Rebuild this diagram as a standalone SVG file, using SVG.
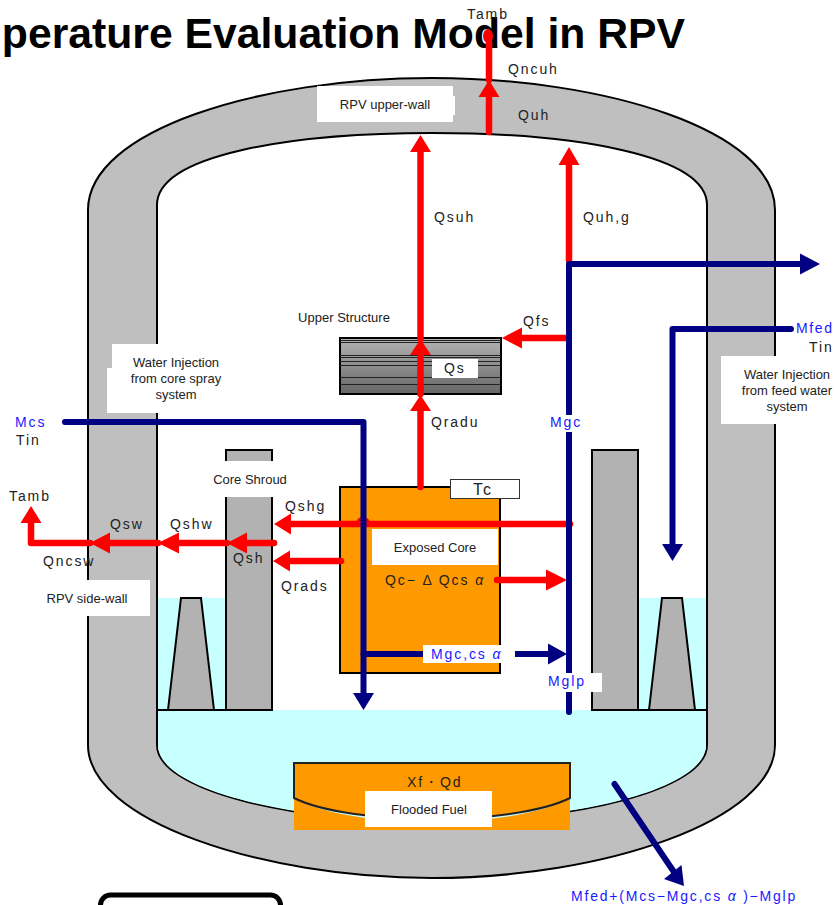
<svg xmlns="http://www.w3.org/2000/svg" width="834" height="905" viewBox="0 0 834 905">
<style>
.w{fill:#fff;stroke:none}
.o{stroke:#000;stroke-width:2;stroke-linejoin:miter}
.g{fill:#b2b2b2}
.r{fill:none;stroke:#f00;stroke-width:6.500;stroke-linecap:round;stroke-linejoin:round}
.n{fill:none;stroke:#000080;stroke-width:6;stroke-linecap:round;stroke-linejoin:round}
.l{font-family:"Liberation Sans",Arial,sans-serif;font-size:14px;letter-spacing:1.9px;fill:#222}
.b{font-family:"Liberation Sans",Arial,sans-serif;font-size:14px;letter-spacing:1.9px;fill:#1a1aff}
.a{font-family:"Liberation Sans",Arial,sans-serif;font-size:13px;fill:#222;text-anchor:middle}
.t{font-family:"Liberation Sans",Arial,sans-serif;font-size:42.700px;font-weight:bold;fill:#000;text-anchor:end}
.i{font-style:italic}
</style>
<defs>
<linearGradient id="ug" x1="0" y1="0" x2="0" y2="1"><stop offset="0" stop-color="#b4b4b4"/><stop offset="1" stop-color="#666"/></linearGradient>
</defs>
<text class="t" x="685" y="47.500">Temperature Evaluation Model in RPV</text>
<g id="vessel">
<path d="M88,210C88,130 260,78 432,78C604,78 775,130 775,210L775,745C775,820 604,878 432,878C260,878 88,820 88,745Z" fill="#bfbfbf" class="o"/>
<path d="M157,205C157,155 290,133 432,133C574,133 707,155 707,205L707,745C707,790 574,822 432,822C290,822 157,790 157,745Z" fill="#fff" class="o"/>
<path d="M158,710H706V745C706,790 574,821 432,821C290,821 158,790 158,745Z" fill="#c8ffff"/>
<rect x="158" y="598" width="68" height="112" fill="#c8ffff"/>
<rect x="638" y="598" width="68" height="112" fill="#c8ffff"/>
<path d="M157,710H226M638,710H707" class="o" fill="none"/>
</g>
<g id="shroud-left"><rect x="226" y="450" width="46" height="260" class="g o"/></g>
<g id="shroud-right"><rect x="592" y="450" width="46" height="260" class="g o"/></g>
<g id="support-left"><path d="M168,710L181,598H201L214,710Z" class="g o"/></g>
<g id="support-right"><path d="M649,710L662,598H682L695,710Z" class="g o"/></g>
<g id="core"><rect x="340" y="487" width="160" height="186" fill="#f90" class="o"/></g>
<g id="upper-structure">
<rect x="340" y="338" width="161" height="56" fill="url(#ug)" class="o"/>
<path d="M340,340.500H501M340,342.500H501M340,355.500H501M340,357.500H501M340,361.500H501M340,365.500H501M340,377.500H501M340,384.500H501" stroke="#222" stroke-width="1" fill="none"/>
</g>
<g id="flooded-fuel">
<path d="M294,798C350,830 514,830 570,798V830H294Z" fill="#f90"/>
<path d="M294,798V763H570V798C514,826 350,826 294,798Z" fill="#f90" stroke="#222" stroke-width="2"/>
</g>
<g id="connectors">
<path class="r" d="M489,132V96"/>
<path d="M478.500,97L489,80L499.500,97Z" fill="#f00"/>
<path class="r" d="M489,80V36"/>
<ellipse cx="488" cy="36" rx="5" ry="7" fill="#f00"/>
<path class="r" d="M420.500,487V411"/>
<path d="M410,411L420.500,395L431,411Z" fill="#f00"/>
<path class="r" d="M420.500,394V355"/>
<path d="M410,355L420.500,339L431,355Z" fill="#f00"/>
<path class="r" d="M420.500,339V152"/>
<path d="M410,152L420.500,135L431,152Z" fill="#f00"/>
<path class="r" d="M569,260V165"/>
<path d="M558.500,165L569,147L579.500,165Z" fill="#f00"/>
<path class="r" d="M567,338H522"/>
<path d="M522,327.500L502,338L522,348.500Z" fill="#f00"/>
<path class="r" d="M570,524H367A4,4 0 0 0 359,524H291"/>
<path d="M291,513.500L274,524L291,534.500Z" fill="#f00"/>
<path class="r" d="M341,561H290"/>
<path d="M290,550.500L273,561L290,571.500Z" fill="#f00"/>
<path class="r" d="M274,543H247"/>
<path d="M247,532.500L227,543L247,553.500Z" fill="#f00"/>
<path class="r" d="M227,543H179"/>
<path d="M179,532.500L158,543L179,553.500Z" fill="#f00"/>
<path class="r" d="M158,543H110"/>
<path d="M110,532.500L90,543L110,553.500Z" fill="#f00"/>
<path class="r" d="M90,543H31V523"/>
<path d="M20.500,523L31,506L41.500,523Z" fill="#f00"/>
<path class="r" d="M497,580H546"/>
<path d="M546,569.500L567,580L546,590.500Z" fill="#f00"/>
<path class="n" d="M65,422H363.500V693"/>
<path d="M353,693L363.500,710L374,693Z" fill="#000080"/>
<path class="n" d="M569,712V264H800"/>
<path d="M800,253.500L820,264L800,274.500Z" fill="#000080"/>
<path class="n" d="M791,329H672.500V544"/>
<path d="M662,544L672.500,561L683,544Z" fill="#000080"/>
<path class="n" d="M363.500,654H430"/>
<path class="n" d="M515,654H548"/>
<path d="M548,643.500L567,654L548,664.500Z" fill="#000080"/>
<path class="n" d="M614.500,784L674,872"/>
<path d="M664,879L684,886L681.500,865Z" fill="#000080"/>
</g>
<g id="labels">
<path class="w" d="M317,86H453V96H455V115H453V122H317Z"/>
<text class="a" x="385" y="109">RPV upper-wall</text>
<path class="w" d="M112,344H222V413H107V368H112Z"/>
<text class="a"><tspan x="176" y="367">Water Injection</tspan><tspan x="176" y="383">from core spray</tspan><tspan x="176" y="399">system</tspan></text>
<rect class="w" x="205" y="461" width="86" height="36"/>
<text class="a" x="250" y="484">Core Shroud</text>
<rect class="w" x="30" y="580" width="120" height="36"/>
<text class="a" x="87" y="603">RPV side-wall</text>
<rect class="w" x="372" y="529" width="126" height="36"/>
<text class="a" x="435" y="552">Exposed Core</text>
<rect class="w" x="432" y="359" width="46" height="19"/>
<rect class="w" x="721" y="356" width="113" height="68"/>
<text class="a"><tspan x="787" y="379">Water Injection</tspan><tspan x="787" y="395">from feed water</tspan><tspan x="787" y="411">system</tspan></text>
<rect class="w" x="365" y="791" width="127" height="36"/>
<text class="a" x="429" y="814">Flooded Fuel</text>
<rect x="450.500" y="479.500" width="69" height="19" fill="#fff" stroke="#333"/>
<rect class="w" x="423" y="645" width="92" height="18"/>
<rect class="w" x="548" y="415" width="34" height="17"/>
<rect class="w" x="546" y="673" width="56" height="19"/>
<text class="l" x="467" y="19">Tamb</text>
<text class="l" x="508" y="74">Qncuh</text>
<text class="l" x="518" y="120">Quh</text>
<text class="l" x="434" y="222">Qsuh</text>
<text class="l" x="583" y="222">Quh,g</text>
<text class="l" x="523" y="326">Qfs</text>
<text class="a" x="344" y="322">Upper Structure</text>
<text class="l" x="444" y="373">Qs</text>
<text class="l" x="431" y="427">Qradu</text>
<text class="b" x="550" y="427">Mgc</text>
<text class="b" x="15" y="427">Mcs</text>
<text class="l" x="16" y="445">Tin</text>
<text class="l" x="9" y="501">Tamb</text>
<text class="l" x="110" y="529">Qsw</text>
<text class="l" x="170" y="529">Qshw</text>
<text class="l" x="285" y="511">Qshg</text>
<text class="l" x="233" y="563">Qsh</text>
<text class="l" x="43" y="566">Qncsw</text>
<text class="l" x="281" y="591">Qrads</text>
<text class="l" x="473" y="495" style="font-size:16px">Tc</text>
<text class="l" x="385" y="585">Qc− Δ Qcs <tspan class="i">α</tspan></text>
<text class="b" x="431" y="659">Mgc,cs <tspan class="i">α</tspan></text>
<text class="b" x="548" y="686">Mglp</text>
<text class="l" x="407" y="787">Xf・Qd</text>
<text class="b" x="571" y="901" style="letter-spacing:1.8px">Mfed+(Mcs−Mgc,cs <tspan class="i">α</tspan> )−Mglp</text>
<text class="b" x="796" y="333" style="letter-spacing:1.6px">Mfed</text>
<text class="l" x="809" y="352">Tin</text>
</g>
<g id="legend-box"><rect x="100.500" y="895" width="180" height="40" rx="10" fill="#fff" stroke="#000" stroke-width="5"/></g>
</svg>
